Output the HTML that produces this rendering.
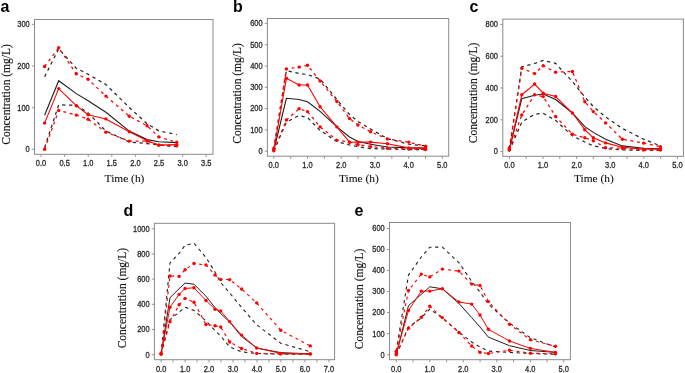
<!DOCTYPE html>
<html><head><meta charset="utf-8"><style>
html,body{margin:0;padding:0;background:#fff;}
svg{display:block;will-change:transform;}
.tk{font-family:"Liberation Sans",sans-serif;font-size:9.0px;fill:#2a2a2a;stroke:#2a2a2a;stroke-width:0.32px;}
.lt{font-family:"Liberation Sans",sans-serif;font-size:16.5px;font-weight:bold;fill:#000;}
.yl{font-family:"Liberation Serif",serif;font-size:12.2px;fill:#111;stroke:#111;stroke-width:0.15px;}
.ti{font-family:"Liberation Serif",serif;font-size:11.4px;fill:#111;stroke:#111;stroke-width:0.1px;}
</style></head><body>
<svg width="685" height="373" viewBox="0 0 685 373">
<rect width="685" height="373" fill="#fff"/>
<rect x="34.5" y="19.5" width="178.5" height="134.8" fill="none" stroke="#8a8a8a" stroke-width="1"/>
<line x1="41.0" y1="154.3" x2="41.0" y2="156.9" stroke="#8a8a8a" stroke-width="0.9"/>
<text transform="translate(41.0,166.2) scale(0.83,1)" text-anchor="middle" class="tk">0.0</text>
<line x1="64.6" y1="154.3" x2="64.6" y2="156.9" stroke="#8a8a8a" stroke-width="0.9"/>
<text transform="translate(64.6,166.2) scale(0.83,1)" text-anchor="middle" class="tk">0.5</text>
<line x1="88.2" y1="154.3" x2="88.2" y2="156.9" stroke="#8a8a8a" stroke-width="0.9"/>
<text transform="translate(88.2,166.2) scale(0.83,1)" text-anchor="middle" class="tk">1.0</text>
<line x1="111.8" y1="154.3" x2="111.8" y2="156.9" stroke="#8a8a8a" stroke-width="0.9"/>
<text transform="translate(111.8,166.2) scale(0.83,1)" text-anchor="middle" class="tk">1.5</text>
<line x1="135.4" y1="154.3" x2="135.4" y2="156.9" stroke="#8a8a8a" stroke-width="0.9"/>
<text transform="translate(135.4,166.2) scale(0.83,1)" text-anchor="middle" class="tk">2.0</text>
<line x1="159.0" y1="154.3" x2="159.0" y2="156.9" stroke="#8a8a8a" stroke-width="0.9"/>
<text transform="translate(159.0,166.2) scale(0.83,1)" text-anchor="middle" class="tk">2.5</text>
<line x1="182.6" y1="154.3" x2="182.6" y2="156.9" stroke="#8a8a8a" stroke-width="0.9"/>
<text transform="translate(182.6,166.2) scale(0.83,1)" text-anchor="middle" class="tk">3.0</text>
<line x1="206.2" y1="154.3" x2="206.2" y2="156.9" stroke="#8a8a8a" stroke-width="0.9"/>
<text transform="translate(206.2,166.2) scale(0.83,1)" text-anchor="middle" class="tk">3.5</text>
<line x1="31.9" y1="149.3" x2="34.5" y2="149.3" stroke="#8a8a8a" stroke-width="0.9"/>
<text transform="translate(29.7,152.1) scale(0.83,1)" text-anchor="end" class="tk">0</text>
<line x1="31.9" y1="107.7" x2="34.5" y2="107.7" stroke="#8a8a8a" stroke-width="0.9"/>
<text transform="translate(29.7,110.5) scale(0.83,1)" text-anchor="end" class="tk">100</text>
<line x1="31.9" y1="66.0" x2="34.5" y2="66.0" stroke="#8a8a8a" stroke-width="0.9"/>
<text transform="translate(29.7,68.8) scale(0.83,1)" text-anchor="end" class="tk">200</text>
<line x1="31.9" y1="24.4" x2="34.5" y2="24.4" stroke="#8a8a8a" stroke-width="0.9"/>
<text transform="translate(29.7,27.2) scale(0.83,1)" text-anchor="end" class="tk">300</text>
<text transform="translate(0.5,12.2) scale(0.97,1)" class="lt">a</text>
<text transform="translate(9.6,94.4) rotate(-90)" text-anchor="middle" class="yl" textLength="100.5" lengthAdjust="spacingAndGlyphs">Concentration (mg/L)</text>
<text x="124.5" y="182.3" text-anchor="middle" class="ti">Time (h)</text>
<polyline points="44.6,76.8 58.7,48.8 76.3,68.3 88.1,74.2 105.9,84.5 129.3,107.5 147.1,123.8 158.8,130.8 176.7,134.6" fill="none" stroke="#262626" stroke-width="1.25" stroke-dasharray="3.3 3.6"/>
<polyline points="44.6,147.5 58.7,104.9 76.3,105.3 88.1,112.9 105.9,131.0 129.3,142.0 147.1,143.6 158.8,145.0 176.7,146.7" fill="none" stroke="#262626" stroke-width="1.25" stroke-dasharray="3.3 3.6"/>
<polyline points="44.6,115.2 58.7,80.7 76.3,93.6 88.1,100.7 105.9,112.2 129.3,131.1 147.1,139.6 158.8,141.7 176.7,142.6" fill="none" stroke="#1e1e1e" stroke-width="1.10"/>
<polyline points="44.6,66.5 58.7,47.8 76.3,73.8 88.1,79.3 105.9,96.1 129.3,116.2 147.1,125.8 158.8,136.9 176.7,142.3" fill="none" stroke="#ff0000" stroke-width="1.25" stroke-dasharray="3 3.6"/>
<polyline points="44.6,149.3 58.7,110.4 76.3,115.1 88.1,119.2 105.9,132.2 129.3,141.1 147.1,141.0 158.8,145.1 176.7,145.8" fill="none" stroke="#ff0000" stroke-width="1.25" stroke-dasharray="3 3.6"/>
<polyline points="44.6,123.1 58.7,88.6 76.3,105.7 88.1,114.8 105.9,118.9 129.3,131.8 147.1,140.8 158.8,145.1 176.7,144.6" fill="none" stroke="#ff0000" stroke-width="1.10"/>
<circle cx="44.6" cy="66.5" r="1.7" fill="#ff0000"/>
<circle cx="58.7" cy="47.8" r="1.7" fill="#ff0000"/>
<circle cx="76.3" cy="73.8" r="1.7" fill="#ff0000"/>
<circle cx="88.1" cy="79.3" r="1.7" fill="#ff0000"/>
<circle cx="105.9" cy="96.1" r="1.7" fill="#ff0000"/>
<circle cx="129.3" cy="116.2" r="1.7" fill="#ff0000"/>
<circle cx="147.1" cy="125.8" r="1.7" fill="#ff0000"/>
<circle cx="158.8" cy="136.9" r="1.7" fill="#ff0000"/>
<circle cx="176.7" cy="142.3" r="1.7" fill="#ff0000"/>
<circle cx="44.6" cy="149.3" r="1.7" fill="#ff0000"/>
<circle cx="58.7" cy="110.4" r="1.7" fill="#ff0000"/>
<circle cx="76.3" cy="115.1" r="1.7" fill="#ff0000"/>
<circle cx="88.1" cy="119.2" r="1.7" fill="#ff0000"/>
<circle cx="105.9" cy="132.2" r="1.7" fill="#ff0000"/>
<circle cx="129.3" cy="141.1" r="1.7" fill="#ff0000"/>
<circle cx="147.1" cy="141.0" r="1.7" fill="#ff0000"/>
<circle cx="158.8" cy="145.1" r="1.7" fill="#ff0000"/>
<circle cx="176.7" cy="145.8" r="1.7" fill="#ff0000"/>
<circle cx="44.6" cy="123.1" r="1.7" fill="#ff0000"/>
<circle cx="58.7" cy="88.6" r="1.7" fill="#ff0000"/>
<circle cx="76.3" cy="105.7" r="1.7" fill="#ff0000"/>
<circle cx="88.1" cy="114.8" r="1.7" fill="#ff0000"/>
<circle cx="105.9" cy="118.9" r="1.7" fill="#ff0000"/>
<circle cx="129.3" cy="131.8" r="1.7" fill="#ff0000"/>
<circle cx="147.1" cy="140.8" r="1.7" fill="#ff0000"/>
<circle cx="158.8" cy="145.1" r="1.7" fill="#ff0000"/>
<circle cx="176.7" cy="144.6" r="1.7" fill="#ff0000"/>
<rect x="267.4" y="18.5" width="181.3" height="137.7" fill="none" stroke="#8a8a8a" stroke-width="1"/>
<line x1="273.8" y1="156.2" x2="273.8" y2="158.8" stroke="#8a8a8a" stroke-width="0.9"/>
<text transform="translate(273.8,168.1) scale(0.83,1)" text-anchor="middle" class="tk">0.0</text>
<line x1="290.7" y1="156.2" x2="290.7" y2="158.8" stroke="#8a8a8a" stroke-width="0.9"/>
<line x1="307.5" y1="156.2" x2="307.5" y2="158.8" stroke="#8a8a8a" stroke-width="0.9"/>
<text transform="translate(307.5,168.1) scale(0.83,1)" text-anchor="middle" class="tk">1.0</text>
<line x1="324.4" y1="156.2" x2="324.4" y2="158.8" stroke="#8a8a8a" stroke-width="0.9"/>
<line x1="341.2" y1="156.2" x2="341.2" y2="158.8" stroke="#8a8a8a" stroke-width="0.9"/>
<text transform="translate(341.2,168.1) scale(0.83,1)" text-anchor="middle" class="tk">2.0</text>
<line x1="358.1" y1="156.2" x2="358.1" y2="158.8" stroke="#8a8a8a" stroke-width="0.9"/>
<line x1="374.9" y1="156.2" x2="374.9" y2="158.8" stroke="#8a8a8a" stroke-width="0.9"/>
<text transform="translate(374.9,168.1) scale(0.83,1)" text-anchor="middle" class="tk">3.0</text>
<line x1="391.8" y1="156.2" x2="391.8" y2="158.8" stroke="#8a8a8a" stroke-width="0.9"/>
<line x1="408.6" y1="156.2" x2="408.6" y2="158.8" stroke="#8a8a8a" stroke-width="0.9"/>
<text transform="translate(408.6,168.1) scale(0.83,1)" text-anchor="middle" class="tk">4.0</text>
<line x1="425.5" y1="156.2" x2="425.5" y2="158.8" stroke="#8a8a8a" stroke-width="0.9"/>
<line x1="442.3" y1="156.2" x2="442.3" y2="158.8" stroke="#8a8a8a" stroke-width="0.9"/>
<text transform="translate(442.3,168.1) scale(0.83,1)" text-anchor="middle" class="tk">5.0</text>
<line x1="264.8" y1="151.2" x2="267.4" y2="151.2" stroke="#8a8a8a" stroke-width="0.9"/>
<text transform="translate(262.6,154.0) scale(0.83,1)" text-anchor="end" class="tk">0</text>
<line x1="264.8" y1="129.9" x2="267.4" y2="129.9" stroke="#8a8a8a" stroke-width="0.9"/>
<text transform="translate(262.6,132.7) scale(0.83,1)" text-anchor="end" class="tk">100</text>
<line x1="264.8" y1="108.6" x2="267.4" y2="108.6" stroke="#8a8a8a" stroke-width="0.9"/>
<text transform="translate(262.6,111.4) scale(0.83,1)" text-anchor="end" class="tk">200</text>
<line x1="264.8" y1="87.3" x2="267.4" y2="87.3" stroke="#8a8a8a" stroke-width="0.9"/>
<text transform="translate(262.6,90.1) scale(0.83,1)" text-anchor="end" class="tk">300</text>
<line x1="264.8" y1="66.0" x2="267.4" y2="66.0" stroke="#8a8a8a" stroke-width="0.9"/>
<text transform="translate(262.6,68.8) scale(0.83,1)" text-anchor="end" class="tk">400</text>
<line x1="264.8" y1="44.7" x2="267.4" y2="44.7" stroke="#8a8a8a" stroke-width="0.9"/>
<text transform="translate(262.6,47.5) scale(0.83,1)" text-anchor="end" class="tk">500</text>
<line x1="264.8" y1="23.4" x2="267.4" y2="23.4" stroke="#8a8a8a" stroke-width="0.9"/>
<text transform="translate(262.6,26.2) scale(0.83,1)" text-anchor="end" class="tk">600</text>
<text transform="translate(232.9,11.9) scale(0.97,1)" class="lt">b</text>
<text transform="translate(240.8,93.4) rotate(-90)" text-anchor="middle" class="yl" textLength="100.5" lengthAdjust="spacingAndGlyphs">Concentration (mg/L)</text>
<text x="358.8" y="182.3" text-anchor="middle" class="ti">Time (h)</text>
<polyline points="273.8,150.0 286.4,70.5 299.1,73.5 307.5,74.5 320.1,79.0 336.9,99.5 349.5,114.5 358.0,121.5 370.6,129.0 387.4,138.6 408.8,144.2 425.6,145.8" fill="none" stroke="#262626" stroke-width="1.25" stroke-dasharray="3.3 3.6"/>
<polyline points="273.8,151.0 286.4,122.0 299.1,115.5 307.5,117.5 320.1,130.5 336.9,141.5 349.5,145.0 358.0,146.6 370.6,148.6 387.4,149.0 408.8,149.5 425.6,149.9" fill="none" stroke="#262626" stroke-width="1.25" stroke-dasharray="3.3 3.6"/>
<polyline points="273.8,150.5 286.4,98.3 299.1,99.5 307.5,101.7 320.1,111.3 336.9,126.9 349.5,137.0 358.0,141.5 370.6,144.2 387.4,147.0 408.8,147.9 425.6,148.2" fill="none" stroke="#1e1e1e" stroke-width="1.10"/>
<polyline points="273.8,148.5 286.4,68.9 299.1,67.1 307.5,65.3 320.1,81.0 336.9,101.5 349.5,118.5 358.0,125.0 370.6,131.8 387.4,138.9 408.8,142.1 425.6,146.3" fill="none" stroke="#ff0000" stroke-width="1.25" stroke-dasharray="3 3.6"/>
<polyline points="273.8,150.7 286.4,120.0 299.1,108.7 307.5,111.6 320.1,126.9 336.9,140.1 349.5,142.1 358.0,144.7 370.6,146.6 387.4,148.2 408.8,149.0 425.6,149.5" fill="none" stroke="#ff0000" stroke-width="1.25" stroke-dasharray="3 3.6"/>
<polyline points="273.8,150.0 286.4,78.3 299.1,85.0 307.5,85.0 320.1,106.8 336.9,126.9 349.5,142.2 358.0,142.1 370.6,142.1 387.4,143.7 408.8,147.9 425.6,147.9" fill="none" stroke="#ff0000" stroke-width="1.10"/>
<circle cx="273.8" cy="148.5" r="1.7" fill="#ff0000"/>
<circle cx="286.4" cy="68.9" r="1.7" fill="#ff0000"/>
<circle cx="299.1" cy="67.1" r="1.7" fill="#ff0000"/>
<circle cx="307.5" cy="65.3" r="1.7" fill="#ff0000"/>
<circle cx="320.1" cy="81.0" r="1.7" fill="#ff0000"/>
<circle cx="336.9" cy="101.5" r="1.7" fill="#ff0000"/>
<circle cx="349.5" cy="118.5" r="1.7" fill="#ff0000"/>
<circle cx="358.0" cy="125.0" r="1.7" fill="#ff0000"/>
<circle cx="370.6" cy="131.8" r="1.7" fill="#ff0000"/>
<circle cx="387.4" cy="138.9" r="1.7" fill="#ff0000"/>
<circle cx="408.8" cy="142.1" r="1.7" fill="#ff0000"/>
<circle cx="425.6" cy="146.3" r="1.7" fill="#ff0000"/>
<circle cx="273.8" cy="150.7" r="1.7" fill="#ff0000"/>
<circle cx="286.4" cy="120.0" r="1.7" fill="#ff0000"/>
<circle cx="299.1" cy="108.7" r="1.7" fill="#ff0000"/>
<circle cx="307.5" cy="111.6" r="1.7" fill="#ff0000"/>
<circle cx="320.1" cy="126.9" r="1.7" fill="#ff0000"/>
<circle cx="336.9" cy="140.1" r="1.7" fill="#ff0000"/>
<circle cx="349.5" cy="142.1" r="1.7" fill="#ff0000"/>
<circle cx="358.0" cy="144.7" r="1.7" fill="#ff0000"/>
<circle cx="370.6" cy="146.6" r="1.7" fill="#ff0000"/>
<circle cx="387.4" cy="148.2" r="1.7" fill="#ff0000"/>
<circle cx="408.8" cy="149.0" r="1.7" fill="#ff0000"/>
<circle cx="425.6" cy="149.5" r="1.7" fill="#ff0000"/>
<circle cx="273.8" cy="150.0" r="1.7" fill="#ff0000"/>
<circle cx="286.4" cy="78.3" r="1.7" fill="#ff0000"/>
<circle cx="299.1" cy="85.0" r="1.7" fill="#ff0000"/>
<circle cx="307.5" cy="85.0" r="1.7" fill="#ff0000"/>
<circle cx="320.1" cy="106.8" r="1.7" fill="#ff0000"/>
<circle cx="336.9" cy="126.9" r="1.7" fill="#ff0000"/>
<circle cx="349.5" cy="142.2" r="1.7" fill="#ff0000"/>
<circle cx="358.0" cy="142.1" r="1.7" fill="#ff0000"/>
<circle cx="370.6" cy="142.1" r="1.7" fill="#ff0000"/>
<circle cx="387.4" cy="143.7" r="1.7" fill="#ff0000"/>
<circle cx="408.8" cy="147.9" r="1.7" fill="#ff0000"/>
<circle cx="425.6" cy="147.9" r="1.7" fill="#ff0000"/>
<rect x="502.8" y="19.1" width="180.6" height="137.2" fill="none" stroke="#8a8a8a" stroke-width="1"/>
<line x1="509.4" y1="156.3" x2="509.4" y2="158.9" stroke="#8a8a8a" stroke-width="0.9"/>
<text transform="translate(509.4,168.2) scale(0.83,1)" text-anchor="middle" class="tk">0.0</text>
<line x1="526.2" y1="156.3" x2="526.2" y2="158.9" stroke="#8a8a8a" stroke-width="0.9"/>
<line x1="543.0" y1="156.3" x2="543.0" y2="158.9" stroke="#8a8a8a" stroke-width="0.9"/>
<text transform="translate(543.0,168.2) scale(0.83,1)" text-anchor="middle" class="tk">1.0</text>
<line x1="559.8" y1="156.3" x2="559.8" y2="158.9" stroke="#8a8a8a" stroke-width="0.9"/>
<line x1="576.6" y1="156.3" x2="576.6" y2="158.9" stroke="#8a8a8a" stroke-width="0.9"/>
<text transform="translate(576.6,168.2) scale(0.83,1)" text-anchor="middle" class="tk">2.0</text>
<line x1="593.4" y1="156.3" x2="593.4" y2="158.9" stroke="#8a8a8a" stroke-width="0.9"/>
<line x1="610.2" y1="156.3" x2="610.2" y2="158.9" stroke="#8a8a8a" stroke-width="0.9"/>
<text transform="translate(610.2,168.2) scale(0.83,1)" text-anchor="middle" class="tk">3.0</text>
<line x1="627.0" y1="156.3" x2="627.0" y2="158.9" stroke="#8a8a8a" stroke-width="0.9"/>
<line x1="643.8" y1="156.3" x2="643.8" y2="158.9" stroke="#8a8a8a" stroke-width="0.9"/>
<text transform="translate(643.8,168.2) scale(0.83,1)" text-anchor="middle" class="tk">4.0</text>
<line x1="660.6" y1="156.3" x2="660.6" y2="158.9" stroke="#8a8a8a" stroke-width="0.9"/>
<line x1="677.4" y1="156.3" x2="677.4" y2="158.9" stroke="#8a8a8a" stroke-width="0.9"/>
<text transform="translate(677.4,168.2) scale(0.83,1)" text-anchor="middle" class="tk">5.0</text>
<line x1="500.2" y1="151.6" x2="502.8" y2="151.6" stroke="#8a8a8a" stroke-width="0.9"/>
<text transform="translate(498.0,154.4) scale(0.83,1)" text-anchor="end" class="tk">0</text>
<line x1="500.2" y1="119.8" x2="502.8" y2="119.8" stroke="#8a8a8a" stroke-width="0.9"/>
<text transform="translate(498.0,122.6) scale(0.83,1)" text-anchor="end" class="tk">200</text>
<line x1="500.2" y1="88.0" x2="502.8" y2="88.0" stroke="#8a8a8a" stroke-width="0.9"/>
<text transform="translate(498.0,90.8) scale(0.83,1)" text-anchor="end" class="tk">400</text>
<line x1="500.2" y1="56.2" x2="502.8" y2="56.2" stroke="#8a8a8a" stroke-width="0.9"/>
<text transform="translate(498.0,59.0) scale(0.83,1)" text-anchor="end" class="tk">600</text>
<line x1="500.2" y1="24.4" x2="502.8" y2="24.4" stroke="#8a8a8a" stroke-width="0.9"/>
<text transform="translate(498.0,27.2) scale(0.83,1)" text-anchor="end" class="tk">800</text>
<text transform="translate(469.5,12.2) scale(0.97,1)" class="lt">c</text>
<text transform="translate(476.7,93.0) rotate(-90)" text-anchor="middle" class="yl" textLength="100.5" lengthAdjust="spacingAndGlyphs">Concentration (mg/L)</text>
<text x="593.9" y="182.3" text-anchor="middle" class="ti">Time (h)</text>
<polyline points="509.3,150.0 521.8,66.9 534.6,63.5 543.2,60.4 555.6,63.4 572.4,81.5 584.8,97.0 593.3,106.5 605.6,117.0 622.4,128.5 643.6,139.2 660.5,145.9" fill="none" stroke="#262626" stroke-width="1.25" stroke-dasharray="3.3 3.6"/>
<polyline points="509.3,151.0 521.8,122.0 534.6,114.2 543.2,113.3 555.6,120.4 572.4,135.8 584.8,142.0 593.3,145.8 605.6,148.5 622.4,149.9 643.6,150.4 660.5,150.4" fill="none" stroke="#262626" stroke-width="1.25" stroke-dasharray="3.3 3.6"/>
<polyline points="509.3,150.0 521.8,98.6 534.6,95.3 543.2,94.0 555.6,99.5 572.4,113.0 584.8,126.6 593.3,132.4 605.6,139.2 622.4,145.9 643.6,148.2 660.5,148.8" fill="none" stroke="#1e1e1e" stroke-width="1.10"/>
<polyline points="509.3,148.0 521.8,68.3 534.6,73.6 543.2,65.7 555.6,72.2 572.4,71.5 584.8,101.7 593.3,111.6 605.6,122.9 622.4,139.2 643.6,143.1 660.5,146.7" fill="none" stroke="#ff0000" stroke-width="1.25" stroke-dasharray="3 3.6"/>
<polyline points="509.3,150.0 521.8,115.0 534.6,94.8 543.2,96.6 555.6,116.5 572.4,134.2 584.8,137.8 593.3,140.7 605.6,147.8 622.4,148.2 643.6,150.1 660.5,150.1" fill="none" stroke="#ff0000" stroke-width="1.25" stroke-dasharray="3 3.6"/>
<polyline points="509.3,149.8 521.8,94.8 534.6,84.0 543.2,93.2 555.6,96.5 572.4,113.0 584.8,129.7 593.3,137.8 605.6,142.9 622.4,147.3 643.6,149.1 660.5,149.1" fill="none" stroke="#ff0000" stroke-width="1.10"/>
<circle cx="509.3" cy="148.0" r="1.7" fill="#ff0000"/>
<circle cx="521.8" cy="68.3" r="1.7" fill="#ff0000"/>
<circle cx="534.6" cy="73.6" r="1.7" fill="#ff0000"/>
<circle cx="543.2" cy="65.7" r="1.7" fill="#ff0000"/>
<circle cx="555.6" cy="72.2" r="1.7" fill="#ff0000"/>
<circle cx="572.4" cy="71.5" r="1.7" fill="#ff0000"/>
<circle cx="584.8" cy="101.7" r="1.7" fill="#ff0000"/>
<circle cx="593.3" cy="111.6" r="1.7" fill="#ff0000"/>
<circle cx="605.6" cy="122.9" r="1.7" fill="#ff0000"/>
<circle cx="622.4" cy="139.2" r="1.7" fill="#ff0000"/>
<circle cx="643.6" cy="143.1" r="1.7" fill="#ff0000"/>
<circle cx="660.5" cy="146.7" r="1.7" fill="#ff0000"/>
<circle cx="509.3" cy="150.0" r="1.7" fill="#ff0000"/>
<circle cx="521.8" cy="115.0" r="1.7" fill="#ff0000"/>
<circle cx="534.6" cy="94.8" r="1.7" fill="#ff0000"/>
<circle cx="543.2" cy="96.6" r="1.7" fill="#ff0000"/>
<circle cx="555.6" cy="116.5" r="1.7" fill="#ff0000"/>
<circle cx="572.4" cy="134.2" r="1.7" fill="#ff0000"/>
<circle cx="584.8" cy="137.8" r="1.7" fill="#ff0000"/>
<circle cx="593.3" cy="140.7" r="1.7" fill="#ff0000"/>
<circle cx="605.6" cy="147.8" r="1.7" fill="#ff0000"/>
<circle cx="622.4" cy="148.2" r="1.7" fill="#ff0000"/>
<circle cx="643.6" cy="150.1" r="1.7" fill="#ff0000"/>
<circle cx="660.5" cy="150.1" r="1.7" fill="#ff0000"/>
<circle cx="509.3" cy="149.8" r="1.7" fill="#ff0000"/>
<circle cx="521.8" cy="94.8" r="1.7" fill="#ff0000"/>
<circle cx="534.6" cy="84.0" r="1.7" fill="#ff0000"/>
<circle cx="543.2" cy="93.2" r="1.7" fill="#ff0000"/>
<circle cx="555.6" cy="96.5" r="1.7" fill="#ff0000"/>
<circle cx="572.4" cy="113.0" r="1.7" fill="#ff0000"/>
<circle cx="584.8" cy="129.7" r="1.7" fill="#ff0000"/>
<circle cx="593.3" cy="137.8" r="1.7" fill="#ff0000"/>
<circle cx="605.6" cy="142.9" r="1.7" fill="#ff0000"/>
<circle cx="622.4" cy="147.3" r="1.7" fill="#ff0000"/>
<circle cx="643.6" cy="149.1" r="1.7" fill="#ff0000"/>
<circle cx="660.5" cy="149.1" r="1.7" fill="#ff0000"/>
<rect x="154.4" y="223.3" width="180.2" height="136.4" fill="none" stroke="#8a8a8a" stroke-width="1"/>
<line x1="161.1" y1="359.7" x2="161.1" y2="362.3" stroke="#8a8a8a" stroke-width="0.9"/>
<text transform="translate(161.1,371.6) scale(0.83,1)" text-anchor="middle" class="tk">0.0</text>
<line x1="173.1" y1="359.7" x2="173.1" y2="362.3" stroke="#8a8a8a" stroke-width="0.9"/>
<line x1="185.1" y1="359.7" x2="185.1" y2="362.3" stroke="#8a8a8a" stroke-width="0.9"/>
<text transform="translate(185.1,371.6) scale(0.83,1)" text-anchor="middle" class="tk">1.0</text>
<line x1="197.1" y1="359.7" x2="197.1" y2="362.3" stroke="#8a8a8a" stroke-width="0.9"/>
<line x1="209.0" y1="359.7" x2="209.0" y2="362.3" stroke="#8a8a8a" stroke-width="0.9"/>
<text transform="translate(209.0,371.6) scale(0.83,1)" text-anchor="middle" class="tk">2.0</text>
<line x1="221.0" y1="359.7" x2="221.0" y2="362.3" stroke="#8a8a8a" stroke-width="0.9"/>
<line x1="233.0" y1="359.7" x2="233.0" y2="362.3" stroke="#8a8a8a" stroke-width="0.9"/>
<text transform="translate(233.0,371.6) scale(0.83,1)" text-anchor="middle" class="tk">3.0</text>
<line x1="245.0" y1="359.7" x2="245.0" y2="362.3" stroke="#8a8a8a" stroke-width="0.9"/>
<line x1="257.0" y1="359.7" x2="257.0" y2="362.3" stroke="#8a8a8a" stroke-width="0.9"/>
<text transform="translate(257.0,371.6) scale(0.83,1)" text-anchor="middle" class="tk">4.0</text>
<line x1="269.0" y1="359.7" x2="269.0" y2="362.3" stroke="#8a8a8a" stroke-width="0.9"/>
<line x1="280.9" y1="359.7" x2="280.9" y2="362.3" stroke="#8a8a8a" stroke-width="0.9"/>
<text transform="translate(280.9,371.6) scale(0.83,1)" text-anchor="middle" class="tk">5.0</text>
<line x1="292.9" y1="359.7" x2="292.9" y2="362.3" stroke="#8a8a8a" stroke-width="0.9"/>
<line x1="304.9" y1="359.7" x2="304.9" y2="362.3" stroke="#8a8a8a" stroke-width="0.9"/>
<text transform="translate(304.9,371.6) scale(0.83,1)" text-anchor="middle" class="tk">6.0</text>
<line x1="316.9" y1="359.7" x2="316.9" y2="362.3" stroke="#8a8a8a" stroke-width="0.9"/>
<line x1="328.9" y1="359.7" x2="328.9" y2="362.3" stroke="#8a8a8a" stroke-width="0.9"/>
<text transform="translate(328.9,371.6) scale(0.83,1)" text-anchor="middle" class="tk">7.0</text>
<line x1="151.8" y1="354.7" x2="154.4" y2="354.7" stroke="#8a8a8a" stroke-width="0.9"/>
<text transform="translate(149.6,357.5) scale(0.83,1)" text-anchor="end" class="tk">0</text>
<line x1="151.8" y1="329.5" x2="154.4" y2="329.5" stroke="#8a8a8a" stroke-width="0.9"/>
<text transform="translate(149.6,332.3) scale(0.83,1)" text-anchor="end" class="tk">200</text>
<line x1="151.8" y1="304.3" x2="154.4" y2="304.3" stroke="#8a8a8a" stroke-width="0.9"/>
<text transform="translate(149.6,307.1) scale(0.83,1)" text-anchor="end" class="tk">400</text>
<line x1="151.8" y1="279.1" x2="154.4" y2="279.1" stroke="#8a8a8a" stroke-width="0.9"/>
<text transform="translate(149.6,281.9) scale(0.83,1)" text-anchor="end" class="tk">600</text>
<line x1="151.8" y1="253.9" x2="154.4" y2="253.9" stroke="#8a8a8a" stroke-width="0.9"/>
<text transform="translate(149.6,256.7) scale(0.83,1)" text-anchor="end" class="tk">800</text>
<line x1="151.8" y1="228.7" x2="154.4" y2="228.7" stroke="#8a8a8a" stroke-width="0.9"/>
<text transform="translate(149.6,231.5) scale(0.83,1)" text-anchor="end" class="tk">1000</text>
<text transform="translate(123.5,215.9) scale(0.97,1)" class="lt">d</text>
<text transform="translate(125.9,298.1) rotate(-90)" text-anchor="middle" class="yl" textLength="100.5" lengthAdjust="spacingAndGlyphs">Concentration (mg/L)</text>
<polyline points="161.1,354.0 170.0,262.9 179.1,253.5 185.1,245.2 194.0,243.3 206.0,257.5 215.0,272.0 220.7,282.6 229.7,293.1 241.6,307.3 256.7,324.8 280.8,343.2 310.3,351.8" fill="none" stroke="#262626" stroke-width="1.12" stroke-dasharray="3.3 3.6"/>
<polyline points="161.1,354.0 170.0,319.5 179.1,312.2 185.1,307.2 194.0,310.5 206.0,320.9 215.0,330.5 220.7,336.0 229.7,347.0 241.6,351.8 256.7,353.5 280.8,354.2 310.3,354.2" fill="none" stroke="#262626" stroke-width="1.12" stroke-dasharray="3.3 3.6"/>
<polyline points="161.1,354.0 170.0,297.7 179.1,288.7 185.1,283.1 194.0,284.2 206.0,296.3 215.0,307.6 220.7,313.6 229.7,322.0 241.6,336.5 256.7,348.0 280.8,352.6 310.3,353.9" fill="none" stroke="#1e1e1e" stroke-width="0.99"/>
<polyline points="161.1,353.5 170.0,276.0 179.1,276.4 185.1,269.8 194.0,263.5 206.0,264.9 215.0,275.0 220.7,279.5 229.7,279.6 241.6,289.0 256.7,302.9 280.8,330.3 310.3,345.9" fill="none" stroke="#ff0000" stroke-width="1.12" stroke-dasharray="3 3.6"/>
<polyline points="161.1,354.0 170.0,321.8 179.1,304.8 185.1,298.4 194.0,302.2 206.0,324.5 215.0,325.8 220.7,327.0 229.7,342.0 241.6,348.5 256.7,353.4 280.8,353.9 310.3,353.9" fill="none" stroke="#ff0000" stroke-width="1.12" stroke-dasharray="3 3.6"/>
<polyline points="161.1,354.0 170.0,307.2 179.1,294.4 185.1,288.5 194.0,287.8 206.0,300.5 215.0,309.2 220.7,311.0 229.7,321.6 241.6,335.1 256.7,348.0 280.8,353.4 310.3,353.9" fill="none" stroke="#ff0000" stroke-width="0.99"/>
<circle cx="161.1" cy="353.5" r="1.7" fill="#ff0000"/>
<circle cx="170.0" cy="276.0" r="1.7" fill="#ff0000"/>
<circle cx="179.1" cy="276.4" r="1.7" fill="#ff0000"/>
<circle cx="185.1" cy="269.8" r="1.7" fill="#ff0000"/>
<circle cx="194.0" cy="263.5" r="1.7" fill="#ff0000"/>
<circle cx="206.0" cy="264.9" r="1.7" fill="#ff0000"/>
<circle cx="215.0" cy="275.0" r="1.7" fill="#ff0000"/>
<circle cx="220.7" cy="279.5" r="1.7" fill="#ff0000"/>
<circle cx="229.7" cy="279.6" r="1.7" fill="#ff0000"/>
<circle cx="241.6" cy="289.0" r="1.7" fill="#ff0000"/>
<circle cx="256.7" cy="302.9" r="1.7" fill="#ff0000"/>
<circle cx="280.8" cy="330.3" r="1.7" fill="#ff0000"/>
<circle cx="310.3" cy="345.9" r="1.7" fill="#ff0000"/>
<circle cx="161.1" cy="354.0" r="1.7" fill="#ff0000"/>
<circle cx="170.0" cy="321.8" r="1.7" fill="#ff0000"/>
<circle cx="179.1" cy="304.8" r="1.7" fill="#ff0000"/>
<circle cx="185.1" cy="298.4" r="1.7" fill="#ff0000"/>
<circle cx="194.0" cy="302.2" r="1.7" fill="#ff0000"/>
<circle cx="206.0" cy="324.5" r="1.7" fill="#ff0000"/>
<circle cx="215.0" cy="325.8" r="1.7" fill="#ff0000"/>
<circle cx="220.7" cy="327.0" r="1.7" fill="#ff0000"/>
<circle cx="229.7" cy="342.0" r="1.7" fill="#ff0000"/>
<circle cx="241.6" cy="348.5" r="1.7" fill="#ff0000"/>
<circle cx="256.7" cy="353.4" r="1.7" fill="#ff0000"/>
<circle cx="280.8" cy="353.9" r="1.7" fill="#ff0000"/>
<circle cx="310.3" cy="353.9" r="1.7" fill="#ff0000"/>
<circle cx="161.1" cy="354.0" r="1.7" fill="#ff0000"/>
<circle cx="170.0" cy="307.2" r="1.7" fill="#ff0000"/>
<circle cx="179.1" cy="294.4" r="1.7" fill="#ff0000"/>
<circle cx="185.1" cy="288.5" r="1.7" fill="#ff0000"/>
<circle cx="194.0" cy="287.8" r="1.7" fill="#ff0000"/>
<circle cx="206.0" cy="300.5" r="1.7" fill="#ff0000"/>
<circle cx="215.0" cy="309.2" r="1.7" fill="#ff0000"/>
<circle cx="220.7" cy="311.0" r="1.7" fill="#ff0000"/>
<circle cx="229.7" cy="321.6" r="1.7" fill="#ff0000"/>
<circle cx="241.6" cy="335.1" r="1.7" fill="#ff0000"/>
<circle cx="256.7" cy="348.0" r="1.7" fill="#ff0000"/>
<circle cx="280.8" cy="353.4" r="1.7" fill="#ff0000"/>
<circle cx="310.3" cy="353.9" r="1.7" fill="#ff0000"/>
<rect x="389.5" y="222.5" width="180.9" height="137.2" fill="none" stroke="#8a8a8a" stroke-width="1"/>
<line x1="396.3" y1="359.7" x2="396.3" y2="362.3" stroke="#8a8a8a" stroke-width="0.9"/>
<text transform="translate(396.3,371.6) scale(0.83,1)" text-anchor="middle" class="tk">0.0</text>
<line x1="413.1" y1="359.7" x2="413.1" y2="362.3" stroke="#8a8a8a" stroke-width="0.9"/>
<line x1="429.8" y1="359.7" x2="429.8" y2="362.3" stroke="#8a8a8a" stroke-width="0.9"/>
<text transform="translate(429.8,371.6) scale(0.83,1)" text-anchor="middle" class="tk">1.0</text>
<line x1="446.6" y1="359.7" x2="446.6" y2="362.3" stroke="#8a8a8a" stroke-width="0.9"/>
<line x1="463.3" y1="359.7" x2="463.3" y2="362.3" stroke="#8a8a8a" stroke-width="0.9"/>
<text transform="translate(463.3,371.6) scale(0.83,1)" text-anchor="middle" class="tk">2.0</text>
<line x1="480.1" y1="359.7" x2="480.1" y2="362.3" stroke="#8a8a8a" stroke-width="0.9"/>
<line x1="496.8" y1="359.7" x2="496.8" y2="362.3" stroke="#8a8a8a" stroke-width="0.9"/>
<text transform="translate(496.8,371.6) scale(0.83,1)" text-anchor="middle" class="tk">3.0</text>
<line x1="513.5" y1="359.7" x2="513.5" y2="362.3" stroke="#8a8a8a" stroke-width="0.9"/>
<line x1="530.3" y1="359.7" x2="530.3" y2="362.3" stroke="#8a8a8a" stroke-width="0.9"/>
<text transform="translate(530.3,371.6) scale(0.83,1)" text-anchor="middle" class="tk">4.0</text>
<line x1="547.0" y1="359.7" x2="547.0" y2="362.3" stroke="#8a8a8a" stroke-width="0.9"/>
<line x1="563.8" y1="359.7" x2="563.8" y2="362.3" stroke="#8a8a8a" stroke-width="0.9"/>
<text transform="translate(563.8,371.6) scale(0.83,1)" text-anchor="middle" class="tk">5.0</text>
<line x1="386.9" y1="354.7" x2="389.5" y2="354.7" stroke="#8a8a8a" stroke-width="0.9"/>
<text transform="translate(384.7,357.5) scale(0.83,1)" text-anchor="end" class="tk">0</text>
<line x1="386.9" y1="333.7" x2="389.5" y2="333.7" stroke="#8a8a8a" stroke-width="0.9"/>
<text transform="translate(384.7,336.5) scale(0.83,1)" text-anchor="end" class="tk">100</text>
<line x1="386.9" y1="312.6" x2="389.5" y2="312.6" stroke="#8a8a8a" stroke-width="0.9"/>
<text transform="translate(384.7,315.4) scale(0.83,1)" text-anchor="end" class="tk">200</text>
<line x1="386.9" y1="291.6" x2="389.5" y2="291.6" stroke="#8a8a8a" stroke-width="0.9"/>
<text transform="translate(384.7,294.4) scale(0.83,1)" text-anchor="end" class="tk">300</text>
<line x1="386.9" y1="270.6" x2="389.5" y2="270.6" stroke="#8a8a8a" stroke-width="0.9"/>
<text transform="translate(384.7,273.4) scale(0.83,1)" text-anchor="end" class="tk">400</text>
<line x1="386.9" y1="249.5" x2="389.5" y2="249.5" stroke="#8a8a8a" stroke-width="0.9"/>
<text transform="translate(384.7,252.3) scale(0.83,1)" text-anchor="end" class="tk">500</text>
<line x1="386.9" y1="228.5" x2="389.5" y2="228.5" stroke="#8a8a8a" stroke-width="0.9"/>
<text transform="translate(384.7,231.3) scale(0.83,1)" text-anchor="end" class="tk">600</text>
<text transform="translate(354.4,216.3) scale(0.97,1)" class="lt">e</text>
<text transform="translate(362.9,299.0) rotate(-90)" text-anchor="middle" class="yl" textLength="100.5" lengthAdjust="spacingAndGlyphs">Concentration (mg/L)</text>
<polyline points="396.3,351.0 408.5,275.0 421.3,257.0 429.8,247.3 442.3,247.0 458.9,262.7 471.7,281.4 480.0,292.0 488.4,304.2 509.5,323.0 530.4,337.7 555.5,347.1" fill="none" stroke="#262626" stroke-width="1.12" stroke-dasharray="3.3 3.6"/>
<polyline points="396.3,354.5 408.5,327.0 421.3,318.0 429.8,309.0 442.3,318.0 458.9,332.0 471.7,342.0 480.0,347.0 488.4,351.1 509.5,352.4 530.4,353.5 555.5,354.3" fill="none" stroke="#262626" stroke-width="1.12" stroke-dasharray="3.3 3.6"/>
<polyline points="396.3,354.5 408.5,305.6 421.3,294.3 429.8,286.8 442.3,288.8 458.9,303.4 471.7,317.6 480.0,327.0 488.4,337.1 509.5,345.7 530.4,350.5 555.5,352.4" fill="none" stroke="#1e1e1e" stroke-width="0.99"/>
<polyline points="396.3,351.3 408.5,290.5 421.3,274.1 429.8,276.9 442.3,269.1 458.9,271.1 471.7,284.1 480.0,285.4 488.4,301.6 509.5,324.2 530.4,339.8 555.5,346.3" fill="none" stroke="#ff0000" stroke-width="1.12" stroke-dasharray="3 3.6"/>
<polyline points="396.3,354.8 408.5,328.3 421.3,317.2 429.8,306.3 442.3,317.6 458.9,332.5 471.7,346.0 480.0,352.3 488.4,353.5 509.5,350.2 530.4,353.2 555.5,353.8" fill="none" stroke="#ff0000" stroke-width="1.12" stroke-dasharray="3 3.6"/>
<polyline points="396.3,353.5 408.5,310.5 421.3,291.1 429.8,291.1 442.3,288.7 458.9,302.0 471.7,304.1 480.0,315.0 488.4,329.3 509.5,341.0 530.4,348.4 555.5,352.4" fill="none" stroke="#ff0000" stroke-width="0.99"/>
<circle cx="396.3" cy="351.3" r="1.7" fill="#ff0000"/>
<circle cx="408.5" cy="290.5" r="1.7" fill="#ff0000"/>
<circle cx="421.3" cy="274.1" r="1.7" fill="#ff0000"/>
<circle cx="429.8" cy="276.9" r="1.7" fill="#ff0000"/>
<circle cx="442.3" cy="269.1" r="1.7" fill="#ff0000"/>
<circle cx="458.9" cy="271.1" r="1.7" fill="#ff0000"/>
<circle cx="471.7" cy="284.1" r="1.7" fill="#ff0000"/>
<circle cx="480.0" cy="285.4" r="1.7" fill="#ff0000"/>
<circle cx="488.4" cy="301.6" r="1.7" fill="#ff0000"/>
<circle cx="509.5" cy="324.2" r="1.7" fill="#ff0000"/>
<circle cx="530.4" cy="339.8" r="1.7" fill="#ff0000"/>
<circle cx="555.5" cy="346.3" r="1.7" fill="#ff0000"/>
<circle cx="396.3" cy="354.8" r="1.7" fill="#ff0000"/>
<circle cx="408.5" cy="328.3" r="1.7" fill="#ff0000"/>
<circle cx="421.3" cy="317.2" r="1.7" fill="#ff0000"/>
<circle cx="429.8" cy="306.3" r="1.7" fill="#ff0000"/>
<circle cx="442.3" cy="317.6" r="1.7" fill="#ff0000"/>
<circle cx="458.9" cy="332.5" r="1.7" fill="#ff0000"/>
<circle cx="471.7" cy="346.0" r="1.7" fill="#ff0000"/>
<circle cx="480.0" cy="352.3" r="1.7" fill="#ff0000"/>
<circle cx="488.4" cy="353.5" r="1.7" fill="#ff0000"/>
<circle cx="509.5" cy="350.2" r="1.7" fill="#ff0000"/>
<circle cx="530.4" cy="353.2" r="1.7" fill="#ff0000"/>
<circle cx="555.5" cy="353.8" r="1.7" fill="#ff0000"/>
<circle cx="396.3" cy="353.5" r="1.7" fill="#ff0000"/>
<circle cx="408.5" cy="310.5" r="1.7" fill="#ff0000"/>
<circle cx="421.3" cy="291.1" r="1.7" fill="#ff0000"/>
<circle cx="429.8" cy="291.1" r="1.7" fill="#ff0000"/>
<circle cx="442.3" cy="288.7" r="1.7" fill="#ff0000"/>
<circle cx="458.9" cy="302.0" r="1.7" fill="#ff0000"/>
<circle cx="471.7" cy="304.1" r="1.7" fill="#ff0000"/>
<circle cx="480.0" cy="315.0" r="1.7" fill="#ff0000"/>
<circle cx="488.4" cy="329.3" r="1.7" fill="#ff0000"/>
<circle cx="509.5" cy="341.0" r="1.7" fill="#ff0000"/>
<circle cx="530.4" cy="348.4" r="1.7" fill="#ff0000"/>
<circle cx="555.5" cy="352.4" r="1.7" fill="#ff0000"/>
</svg>
</body></html>
